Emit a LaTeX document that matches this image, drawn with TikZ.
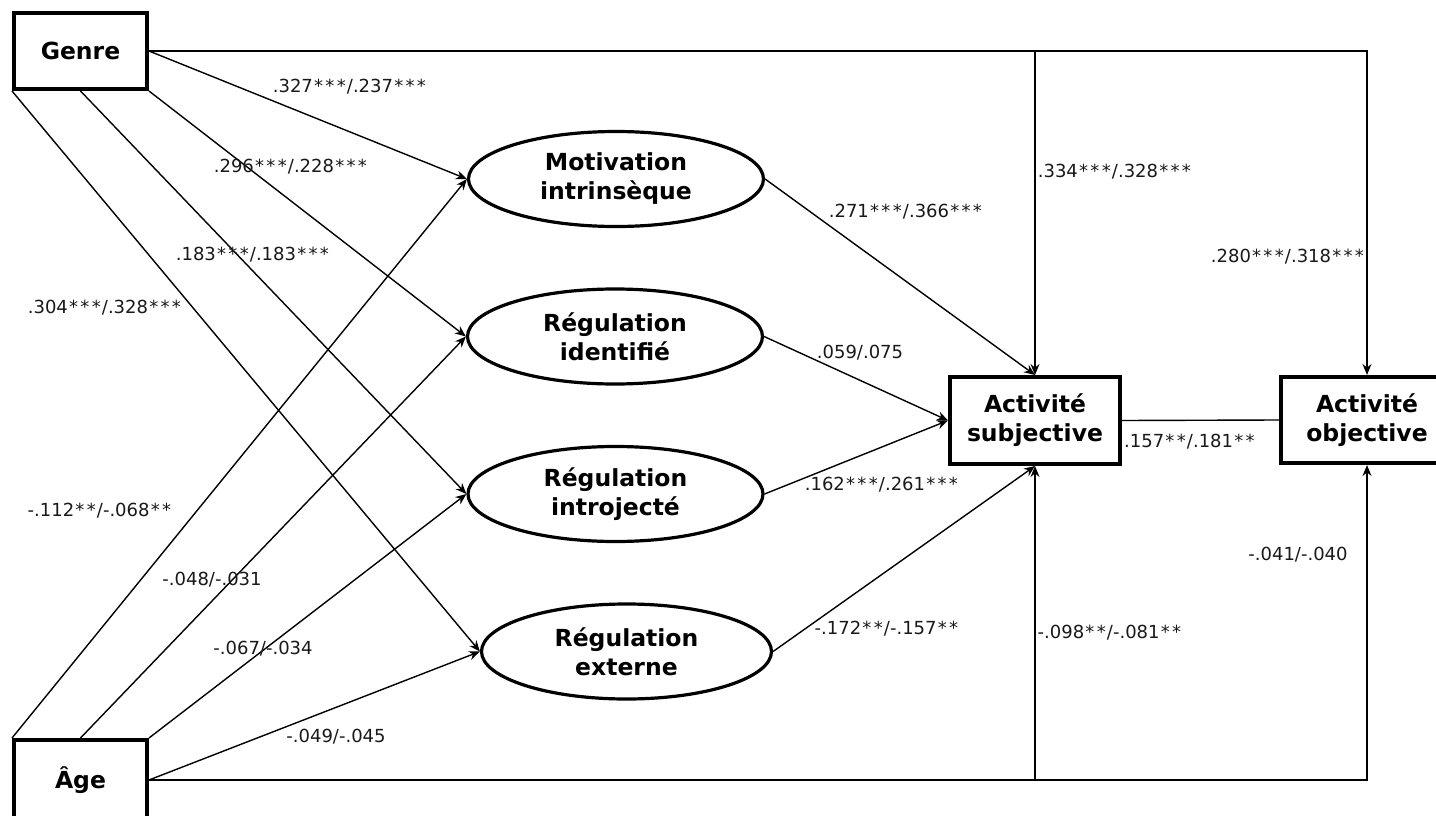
\documentclass[tikz,border=0pt]{standalone}
\usepackage{fontspec}
\setmainfont{DejaVu Sans}
\usetikzlibrary{shapes.geometric,arrows.meta}
% a wider star, so that the significance marks keep their spacing
\newcommand\st{\makebox[0.63em]{*}}
\begin{document}
\begin{tikzpicture}[x=1pt,y=-1pt,
  conn/.style={line width=1.4pt},
  arr/.style={conn,-{Stealth[length=11pt,width=9pt]}},
  varbox/.style={draw,line width=4pt,rectangle,inner sep=0pt,align=center,
    font=\fontsize{23.5}{29}\selectfont\bfseries},
  latent/.style={draw,line width=3.2pt,ellipse,inner sep=0pt,
    minimum width=295pt,minimum height=95pt,align=center,
    font=\fontsize{23.5}{29}\selectfont\bfseries},
  coef/.style={font=\fontsize{18}{22}\selectfont,inner sep=0pt,text=black!90}
]
\clip (0,0) rectangle (1436,816);
\fill[white] (0,0) rectangle (1436,816);

% observed variables
\node[varbox,minimum width=133pt,minimum height=76pt] (genre) at (80.5,51) {Genre};
\node[varbox,minimum width=133pt,minimum height=80pt] (age) at (80.5,780) {Âge};
\node[varbox,minimum width=170pt,minimum height=87pt] (subj) at (1035,420.5) {Activité\\subjective};
\node[varbox,minimum width=172pt,minimum height=86pt] (obj) at (1367,420) {Activité\\objective};

% motivation types
\node[latent] (mi) at (616,179) {Motivation\\intrinsèque};
\node[latent] (ri) at (615,336.5) {Régulation\\identifié};
\node[latent] (rj) at (615.5,494) {Régulation\\introjecté};
\node[latent,minimum width=290pt] (re) at (626.5,651.5) {Régulation\\externe};

% paths from Genre
\draw[arr] (genre.east) -- (mi.west);
\draw[arr] (genre.south east) -- (ri.west);
\draw[arr] (genre.south) -- (rj.west);
\draw[arr] (genre.south west) -- (re.west);

% paths from Âge
\draw[arr] (age.north west) -- (mi.west);
\draw[arr] (age.north) -- (ri.west);
\draw[arr] (age.north east) -- (rj.west);
\draw[arr] (age.east) -- (re.west);

% paths into subjective activity
\draw[arr] (mi.east) -- (subj.north);
\draw[arr] (ri.east) -- (subj.west);
\draw[arr] (rj.east) -- (subj.west);
\draw[arr] (re.east) -- (subj.south);

% direct paths along the top and bottom
\coordinate (gtop) at (obj.north |- genre.east);
\coordinate (gmid) at (subj.north |- genre.east);
\draw[arr] (genre.east) -- (gtop) -- (obj.north);
\draw[arr] (gmid) -- (subj.north);
\coordinate (abot) at (obj.south |- age.east);
\coordinate (amid) at (subj.south |- age.east);
\draw[arr] (age.east) -- (abot) -- (obj.south);
\draw[arr] (amid) -- (subj.south);
\draw[conn] (subj.east) -- (obj.west);

% coefficients
\node[coef] (c1) at (350,87) {.327\st\st\st/.237\st\st\st};
\node[coef] (c2) at (291,167) {.296\st\st\st/.228\st\st\st};
\node[coef] (c3) at (253,255) {.183\st\st\st/.183\st\st\st};
\node[coef] (c4) at (105,308) {.304\st\st\st/.328\st\st\st};
\node[coef] (c5) at (100,511) {-.112\st\st/-.068\st\st};
\node[coef] (c6) at (212,580) {-.048/-.031};
\node[coef] (c7) at (263,649) {-.067/-.034};
\node[coef] (c8) at (336,737) {-.049/-.045};
\node[coef] (c9) at (906,212) {.271\st\st\st/.366\st\st\st};
\node[coef] (c10) at (860,353) {.059/.075};
\node[coef] (c11) at (882,485) {.162\st\st\st/.261\st\st\st};
\node[coef] (c12) at (887,629) {-.172\st\st/-.157\st\st};
\node[coef] (c13) at (1115,172) {.334\st\st\st/.328\st\st\st};
\node[coef] (c14) at (1288,257) {.280\st\st\st/.318\st\st\st};
\node[coef] (c15) at (1190,442) {.157\st\st/.181\st\st};
\node[coef] (c16) at (1298,555) {-.041/-.040};
\node[coef] (c17) at (1110,633) {-.098\st\st/-.081\st\st};
\end{tikzpicture}
\end{document}
